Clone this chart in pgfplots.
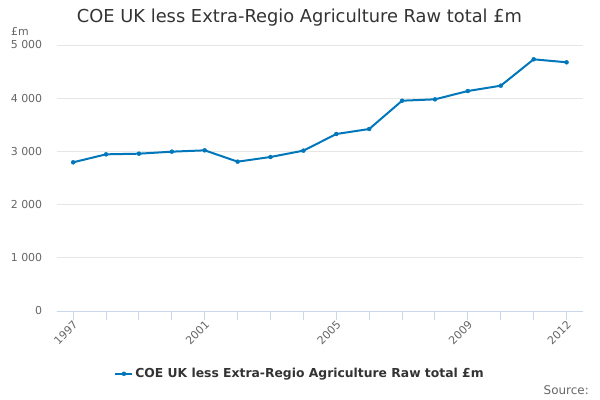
\documentclass[border=0pt]{standalone}
\usepackage{pgfplots}
\pgfplotsset{compat=1.18}
\usepackage{fontspec}
\setmainfont{DejaVu Sans}
\definecolor{ons}{HTML}{0077BB}
\definecolor{axisc}{HTML}{CCD6EB}
\definecolor{gridc}{HTML}{E6E6E6}
\definecolor{tickc}{HTML}{666666}
\definecolor{titlec}{HTML}{333333}
\begin{document}
\begin{tikzpicture}
\path (0bp,0bp) rectangle (600bp,400bp);
\begin{axis}[
  at={(56.7bp,89bp)}, anchor=south west,
  scale only axis, width=526.3bp, height=266bp,
  xmin=1996.5, xmax=2012.5, ymin=0, ymax=5000,
  xtick={1997,2001,2005,2009,2012},
  xticklabels={1997,2001,2005,2009,2012},
  minor xtick={1998,1999,2000,2002,2003,2004,2006,2007,2008,2010,2011},
  ytick={0,1000,2000,3000,4000,5000},
  yticklabels={0,1 000,2 000,3 000,4 000,5 000},
  axis x line*=bottom, axis y line*=left,
  x axis line style={draw=axisc, line width=1bp},
  y axis line style={draw=none},
  tick align=outside, major tick length=9bp, minor tick length=9bp,
  xtick style={draw=axisc, line width=1bp},
  minor x tick style={draw=axisc, line width=1bp},
  ytick style={draw=none},
  ymajorgrids, grid style={draw=gridc, line width=1bp},
  tick label style={font=\fontsize{11}{13}\selectfont, text=tickc},
  x tick label style={rotate=45, anchor=east, xshift=3bp, yshift=-4bp},
  y tick label style={xshift=-2bp},
  legend style={at={(0.4623,-0.2)}, anchor=north, draw=none, fill=none,
    font=\fontsize{12.4}{14}\selectfont\bfseries, text=titlec},
  legend cell align=left,
  clip=false,
]
\addplot[ons, line width=2bp, mark=*, mark size=2bp, mark options={fill=ons, draw=ons, line width=0.4bp}]
coordinates {
(1997,2795) (1998,2945) (1999,2957) (2000,2995) (2001,3020) (2002,2807)
(2003,2895) (2004,3014) (2005,3327) (2006,3421) (2007,3953) (2008,3979)
(2009,4135) (2010,4235) (2011,4731) (2012,4675)
};
\addlegendentry{COE UK less Extra-Regio Agriculture Raw total £m}
\end{axis}
\node[anchor=center, text=titlec, font=\fontsize{17.9}{20}\selectfont] at (299.5bp,382bp) {COE UK less Extra-Regio Agriculture Raw total £m};
\node[anchor=north west, inner sep=0, text=tickc, font=\fontsize{11}{13}\selectfont] at (11bp,373bp) {£m};
\node[anchor=east, inner sep=0, text=tickc, font=\fontsize{12}{14}\selectfont] at (589bp,10bp) {Source:};
\end{tikzpicture}
\end{document}
